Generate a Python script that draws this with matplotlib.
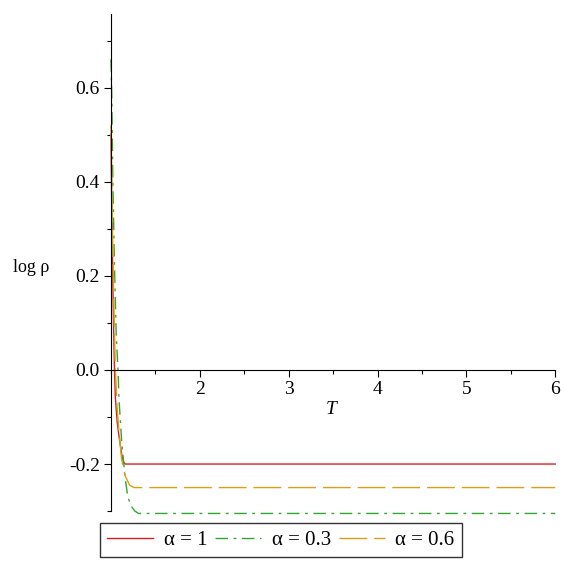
import matplotlib.pyplot as plt
from matplotlib.ticker import MultipleLocator

plt.rcParams['font.family'] = ['Liberation Serif', 'DejaVu Serif']

# curves: (T, log rho)
T_a1 = [1.0, 1.01, 1.02, 1.03, 1.04, 1.05, 1.07, 1.09, 1.12, 1.14, 1.16, 6.0]
rho_a1 = [0.50, 0.34, 0.20, 0.09, 0.0, -0.06, -0.11, -0.14, -0.178, -0.195, -0.20, -0.20]

T_a03 = [1.0, 1.01, 1.02, 1.04, 1.06, 1.08, 1.09, 1.12, 1.16, 1.19, 1.23, 1.27, 1.31, 6.0]
rho_a03 = [0.66, 0.58, 0.42, 0.22, 0.07, 0.0, -0.06, -0.15, -0.23, -0.27, -0.29, -0.30, -0.305, -0.305]

T_a06 = [1.0, 1.01, 1.02, 1.035, 1.05, 1.07, 1.09, 1.12, 1.16, 1.21, 1.26, 6.0]
rho_a06 = [0.52, 0.40, 0.27, 0.12, 0.0, -0.08, -0.13, -0.19, -0.225, -0.245, -0.25, -0.25]

labels = ['\u03b1 = 1', '\u03b1 = 0.3', '\u03b1 = 0.6']
xticks = [2, 3, 4, 5, 6]
yticks = [-0.2, 0.0, 0.2, 0.4, 0.6]

fig = plt.figure(figsize=(5.66, 5.66), dpi=100)
ax = fig.add_axes([0.196, 0.097, 0.785, 0.878])

ax.plot(T_a1, rho_a1, color='#d92020', lw=1.0, label=labels[0], clip_on=False)
ax.plot(T_a03, rho_a03, color='#30a830', lw=1.0, linestyle=(0, (9, 4, 2, 4)),
        label=labels[1], clip_on=False)
ax.plot(T_a06, rho_a06, color='#d8a018', lw=1.0, linestyle=(0, (20, 5)),
        label=labels[2], clip_on=False)

ax.set_xlim(1, 6)
ax.set_ylim(-0.30, 0.756)

ax.spines['top'].set_visible(False)
ax.spines['right'].set_visible(False)
ax.spines['bottom'].set_position(('data', 0))
ax.spines['left'].set_position(('data', 1))

ax.set_xticks(xticks)
ax.set_yticks(yticks)
ax.set_yticklabels(['-0.2' if v < 0 else f'{v:.1f}' for v in yticks])
ax.xaxis.set_minor_locator(MultipleLocator(0.5))
ax.yaxis.set_minor_locator(MultipleLocator(0.1))
ax.tick_params(which='major', length=5, width=0.8, labelsize=14, direction='out', pad=3)
ax.tick_params(which='minor', length=3, width=0.8, direction='out')

fig.text(331 / 566, 1 - 410 / 566, 'T', style='italic', fontsize=14, ha='center', va='center')
fig.text(31 / 566, 1 - 268 / 566, 'log \u03c1', fontsize=13, ha='center', va='center')

leg = fig.legend(loc='upper left', bbox_to_anchor=(100 / 566, 1 - 523 / 566), ncol=3,
                 frameon=True, fancybox=False, fontsize=15, handlelength=2.2,
                 handletextpad=0.5, columnspacing=0.4, borderpad=0.35, borderaxespad=0)
leg.get_frame().set_edgecolor('black')
leg.get_frame().set_linewidth(1.0)

fig.savefig('out.png', dpi=100)
